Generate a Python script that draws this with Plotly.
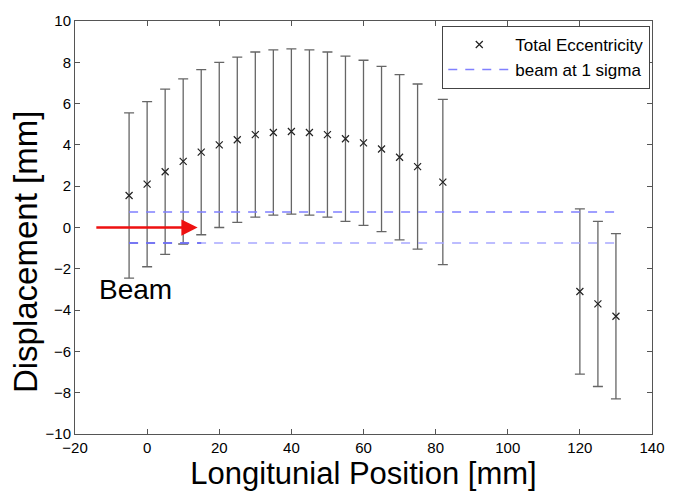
import plotly.graph_objects as go

positions = [-5, 0, 5, 10, 15, 20, 25, 30, 35, 40, 45, 50, 55, 60, 65, 70, 75, 82, 120, 125, 130]
eccentricity = [1.55, 2.1, 2.7, 3.2, 3.65, 4.0, 4.25, 4.5, 4.6, 4.65, 4.6, 4.5, 4.3, 4.1, 3.8, 3.4, 2.95, 2.2, -3.1, -3.7, -4.3]
error = [4.0] * len(positions)
beam_sigma = 0.75
beam_x = [-5, 130]
beam_x_dark = [-5, 15]
x_ticks = [-20, 0, 20, 40, 60, 80, 100, 120, 140]
y_ticks = [-10, -8, -6, -4, -2, 0, 2, 4, 6, 8, 10]

fig = go.Figure()

fig.add_trace(go.Scatter(
    x=positions, y=eccentricity, mode="markers", name="Total Eccentricity",
    marker=dict(symbol="x-thin", size=7, line=dict(width=1.2, color="#222222"), color="black"),
    error_y=dict(type="data", array=error, visible=True, color="#666666", thickness=1.3, width=5),
))
fig.add_trace(go.Scatter(
    x=beam_x, y=[beam_sigma, beam_sigma], mode="lines", name="beam at 1 sigma",
    line=dict(color="#8080ff", width=1.5, dash="9px,8px"),
))
fig.add_trace(go.Scatter(
    x=beam_x, y=[-beam_sigma, -beam_sigma], mode="lines", showlegend=False,
    line=dict(color="#a8a8ff", width=1.5, dash="9px,8px"),
))
fig.add_trace(go.Scatter(
    x=beam_x_dark, y=[-beam_sigma, -beam_sigma], mode="lines", showlegend=False,
    line=dict(color="#6060f0", width=1.5, dash="9px,8px"),
))

fig.add_annotation(x=14, y=0, ax=-14.5, ay=0, xref="x", yref="y", axref="x", ayref="y",
                   showarrow=True, arrowhead=2, arrowsize=1.3, arrowwidth=2.5, arrowcolor="#ee1111", text="")
fig.add_annotation(x=-3.2, y=-3.0, xref="x", yref="y", text="Beam", showarrow=False,
                   font=dict(size=28, color="black", family="Liberation Sans, Arial"))
fig.add_annotation(x=-0.087, y=0.44, xref="paper", yref="paper", text="Displacement [mm]",
                   textangle=-90, showarrow=False, xanchor="center", yanchor="middle",
                   font=dict(size=33, color="black", family="Liberation Sans, Arial"))

axis_common = dict(showline=True, linecolor="#555555", linewidth=1, mirror="ticks",
                   ticks="inside", ticklen=5, tickcolor="#555555", showgrid=False, zeroline=False,
                   tickfont=dict(size=15, color="black", family="Liberation Sans, Arial"))

fig.update_layout(
    width=677, height=492,
    margin=dict(l=75, r=15, t=16, b=56),
    plot_bgcolor="white", paper_bgcolor="white",
    font=dict(family="Liberation Sans, Arial", color="black"),
    xaxis=dict(range=[-20, 140], tickvals=x_ticks, ticktext=[str(v).replace("-", "\u2212") for v in x_ticks],
               title=dict(text="Longitunial Position [mm]", font=dict(size=31), standoff=2), **axis_common),
    yaxis=dict(range=[-10, 10], tickvals=y_ticks, ticktext=[str(v).replace("-", "\u2212") for v in y_ticks],
               **axis_common),
    legend=dict(x=0.997, y=0.988, xanchor="right", yanchor="top", bgcolor="white",
                bordercolor="#444444", borderwidth=1, font=dict(size=17), tracegroupgap=0,
                itemwidth=62),
    showlegend=True,
)

fig.write_html("out.html")
